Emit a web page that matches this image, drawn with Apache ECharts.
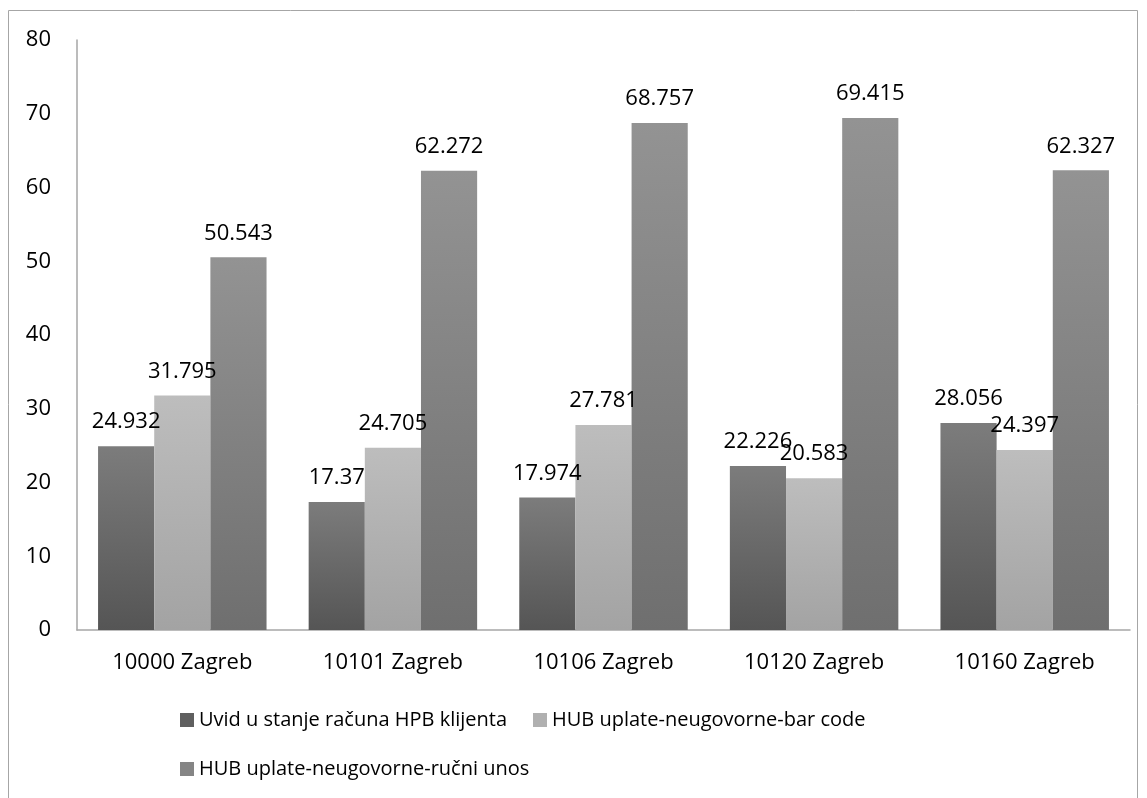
<!DOCTYPE html>
<html>
<head>
<meta charset="utf-8">
<script src="https://cdn.jsdelivr.net/npm/echarts@6/dist/echarts.min.js"></script>
<style>
  html, body { margin: 0; padding: 0; background: #fff; }
  #chart { width: 1147px; height: 798px; }
</style>
</head>
<body>
<div id="chart"></div>
<script>
  const categories = ['10000 Zagreb', '10101 Zagreb', '10106 Zagreb', '10120 Zagreb', '10160 Zagreb']
  const seriesNames = [
    'Uvid u stanje računa HPB klijenta',
    'HUB uplate-neugovorne-bar code',
    'HUB uplate-neugovorne-ručni unos'
  ]
  const uvidValues = [24.932, 17.37, 17.974, 22.226, 28.056]
  const barCodeValues = [31.795, 24.705, 27.781, 20.583, 24.397]
  const rucniValues = [50.543, 62.272, 68.757, 69.415, 62.327]

  const font = '"Open Sans", "DejaVu Sans", sans-serif'

  // vertical gradients, lighter at the top
  function grad (top, bottom) {
    return new echarts.graphic.LinearGradient(0, 0, 0, 1, [
      { offset: 0, color: top },
      { offset: 1, color: bottom }
    ])
  }
  const colors = [
    grad('#7c7c7c', '#555555'),
    grad('#bdbdbd', '#a3a3a3'),
    grad('#939393', '#6f6f6f')
  ]
  const legendColors = ['#5f5f5f', '#b0b0b0', '#858585']

  function makeSeries (name, data, idx) {
    return {
      name: name,
      type: 'bar',
      data: data,
      barGap: '0%',
      barCategoryGap: '20%',
      itemStyle: { color: colors[idx] },
      label: {
        show: true,
        position: 'top',
        distance: 13,
        color: '#000',
        fontFamily: font,
        fontSize: 22
      }
    }
  }

  const myChart = echarts.init(document.getElementById('chart'))
  const option = {
    animation: false,
    color: legendColors,
    graphic: [{
      type: 'rect',
      shape: { x: 8.5, y: 10.5, width: 1129, height: 800 },
      style: { fill: 'none', stroke: '#a6a6a6', lineWidth: 1 },
      silent: true
    }],
    grid: { left: 77, right: 17, top: 40, bottom: 168 },
    legend: [
      {
        data: [
          { name: seriesNames[0], itemStyle: { color: legendColors[0] } },
          { name: seriesNames[1], itemStyle: { color: legendColors[1] } }
        ],
        left: 175, top: 705,
        icon: 'rect', itemWidth: 14, itemHeight: 14, itemGap: 26,
        textStyle: { fontFamily: font, fontSize: 20, color: '#000' }
      },
      {
        data: [
          { name: seriesNames[2], itemStyle: { color: legendColors[2] } }
        ],
        left: 175, top: 754,
        icon: 'rect', itemWidth: 14, itemHeight: 14,
        textStyle: { fontFamily: font, fontSize: 20, color: '#000' }
      }
    ],
    xAxis: {
      type: 'category',
      data: categories,
      axisLine: { lineStyle: { color: '#a6a6a6', width: 1.5 } },
      axisTick: { show: false },
      axisLabel: { color: '#000', fontFamily: font, fontSize: 22, margin: 22 }
    },
    yAxis: {
      type: 'value',
      min: 0,
      max: 80,
      interval: 10,
      axisLine: { show: true, lineStyle: { color: '#a6a6a6', width: 1.5 } },
      axisTick: { show: false },
      splitLine: { show: false },
      axisLabel: { color: '#000', fontFamily: font, fontSize: 22, margin: 26 }
    },
    series: [
      makeSeries(seriesNames[0], uvidValues, 0),
      makeSeries(seriesNames[1], barCodeValues, 1),
      makeSeries(seriesNames[2], rucniValues, 2)
    ]
  }
  myChart.setOption(option)
</script>
</body>
</html>
